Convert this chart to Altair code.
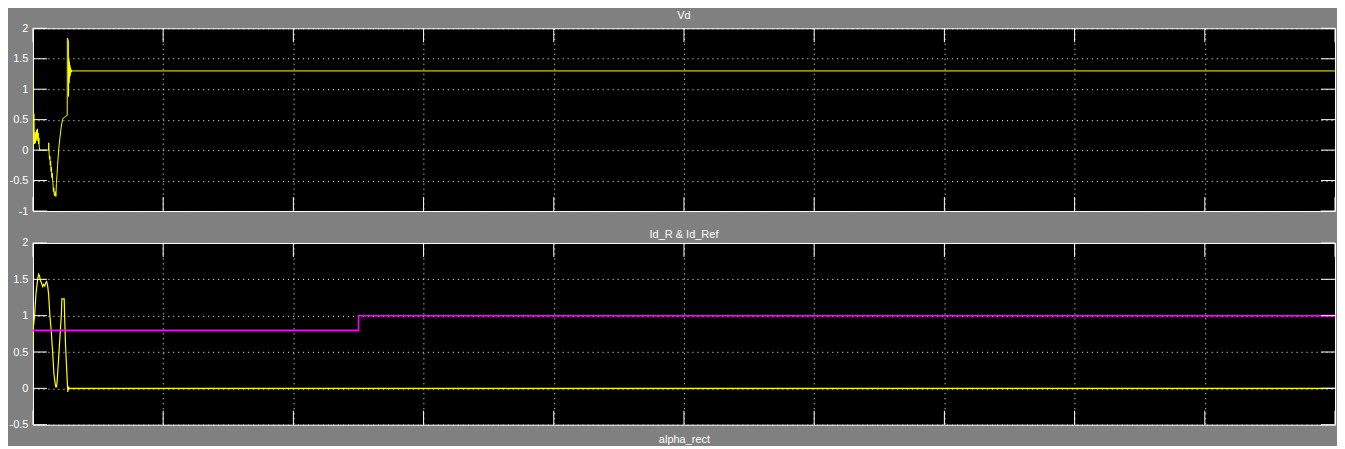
import altair as alt
import pandas as pd

# ---- data ----
vd_t = [0.0, 0.0005, 0.002, 0.008, 0.010, 0.013, 0.016, 0.019, 0.022, 0.025, 0.028, 0.031,
        0.034, 0.037, 0.040, 0.043, 0.046, 0.048, 0.052, 0.120, 0.121, 0.124, 0.127, 0.130,
        0.133, 0.136, 0.139, 0.142, 0.145, 0.148, 0.151, 0.154, 0.157, 0.160, 0.163, 0.166,
        0.170, 0.173, 0.176, 0.180, 0.185, 0.189, 0.197, 0.207, 0.217, 0.227, 0.235, 0.250,
        0.262, 0.263, 0.264, 0.272, 0.273, 0.275, 0.277, 0.279, 0.281, 0.283, 0.285, 0.287,
        0.289, 0.291, 0.294, 0.297, 0.300, 10.0]
vd_v = [1.25, 0.05, 0.60, 0.60, 0.25, 0.10, 0.30, 0.12, 0.28, 0.18, 0.33, 0.15,
        0.35, 0.20, 0.28, 0.10, 0.20, 0.05, 0.0, 0.0, 0.12, -0.05, -0.15, -0.10,
        -0.25, -0.18, -0.35, -0.28, -0.45, -0.38, -0.50, -0.55, -0.68, -0.62, -0.72, -0.75,
        -0.68, -0.70, -0.76, -0.55, -0.40, -0.25, 0.0, 0.20, 0.38, 0.50, 0.53, 0.55,
        0.57, 0.57, 1.84, 1.80, 0.88, 1.50, 1.10, 1.45, 1.18, 1.40, 1.22, 1.36,
        1.26, 1.33, 1.28, 1.31, 1.30, 1.30]

idr_t = [0.0, 0.001, 0.005, 0.0125, 0.023, 0.036, 0.044, 0.050, 0.058, 0.066, 0.075, 0.082,
         0.090, 0.100, 0.105, 0.112, 0.120, 0.130, 0.140, 0.151, 0.161, 0.168, 0.175, 0.181,
         0.186, 0.191, 0.202, 0.212, 0.218, 0.222, 0.240, 0.243, 0.250, 0.258, 0.266, 0.268,
         0.270, 0.272, 0.275, 0.280, 10.0]
idr_v = [0.58, 0.85, 0.87, 1.00, 1.30, 1.50, 1.57, 1.55, 1.48, 1.45, 1.40, 1.43,
         1.41, 1.46, 1.47, 1.42, 1.30, 1.00, 0.80, 0.50, 0.20, 0.10, 0.02, 0.02,
         0.10, 0.25, 0.55, 0.85, 1.00, 1.23, 1.23, 1.00, 0.60, 0.30, 0.0, -0.05,
         0.03, -0.02, 0.01, 0.0, 0.0]

ref_t = [0.0, 2.5, 10.0]
ref_v = [0.8, 1.0, 1.0]

x_ticks = [0, 1, 2, 3, 4, 5, 6, 7, 8, 9, 10]
top_yticks = [-1, -0.5, 0, 0.5, 1, 1.5, 2]
bot_yticks = [-0.5, 0, 0.5, 1, 1.5, 2]

W = 1304
TICK = 14
FONT = "Liberation Sans"


def panel(title, series, ydom, yticks, H, xtitle, toff):
    xs = alt.Scale(domain=[0, 10], nice=False, zero=False)
    ys = alt.Scale(domain=ydom, nice=False, zero=False)
    xax = alt.Axis(values=x_ticks, grid=True, gridColor="white", gridDash=[1, 4],
                   gridWidth=1, labels=False, ticks=False, domain=False,
                   title=xtitle if xtitle else "", titleColor="white",
                   titleFontSize=11, titleFontWeight="normal", titleFont=FONT,
                   titlePadding=9)
    yax = alt.Axis(values=yticks, grid=True, gridColor="white", gridDash=[1, 4],
                   gridWidth=1, ticks=False, domain=False, title="",
                   labelColor="white", labelFontSize=11, labelFont=FONT,
                   labelPadding=5, labelExpr="'' + datum.value")
    layers = []
    ydf = pd.DataFrame({"v": yticks})
    xdf = pd.DataFrame({"t": x_ticks})
    for t, v, color, interp, sw in series:
        df = pd.DataFrame({"t": t, "v": v})
        layers.append(alt.Chart(df).mark_line(color=color, strokeWidth=sw,
                                              interpolate=interp, clip=True).encode(
            x=alt.X("t:Q", scale=xs, axis=xax), y=alt.Y("v:Q", scale=ys, axis=yax)))
    layers.append(alt.Chart(ydf).mark_rule(color="white", strokeWidth=1).encode(
        y=alt.Y("v:Q", scale=ys, axis=yax), x=alt.value(0), x2=alt.value(TICK)))
    layers.append(alt.Chart(ydf).mark_rule(color="white", strokeWidth=1).encode(
        y=alt.Y("v:Q", scale=ys, axis=yax), x=alt.value(W - TICK), x2=alt.value(W)))
    layers.append(alt.Chart(xdf).mark_rule(color="white", strokeWidth=1).encode(
        x=alt.X("t:Q", scale=xs, axis=xax), y=alt.value(0), y2=alt.value(TICK)))
    layers.append(alt.Chart(xdf).mark_rule(color="white", strokeWidth=1).encode(
        x=alt.X("t:Q", scale=xs, axis=xax), y=alt.value(H - TICK), y2=alt.value(H)))
    return alt.layer(*layers).properties(
        width=W, height=H,
        title=alt.TitleParams(title, color="white", fontSize=11, fontWeight="normal",
                              font=FONT, anchor="middle", offset=toff))


top = panel("Vd", [(vd_t, vd_v, "#FFFF00", "linear", 1)], [-1, 2], top_yticks, 183, None, 1)
bot = panel("Id_R & Id_Ref",
            [(idr_t, idr_v, "#FFFF00", "linear", 1.2),
             (ref_t, ref_v, "#FF00FF", "step-after", 1.6)],
            [-0.5, 2], bot_yticks, 182, "alpha_rect", -3)

chart = alt.vconcat(top, bot, spacing=11).properties(
    background="#808080",
    padding={"left": 0, "top": 1, "right": 1, "bottom": 0},
).configure_view(fill="black", stroke="white", strokeWidth=1)

chart.save("out.html", embed_options={"renderer": "svg", "actions": False})
